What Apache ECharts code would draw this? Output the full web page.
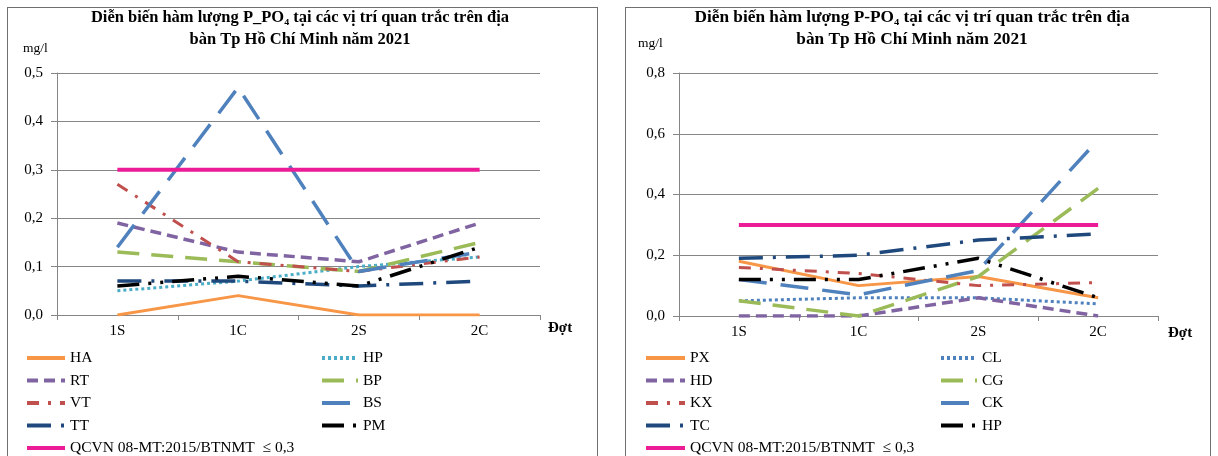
<!DOCTYPE html>
<html><head><meta charset="utf-8">
<script src="https://cdn.jsdelivr.net/npm/echarts@6/dist/echarts.min.js"></script>
<style>
body{margin:0;background:#fff;width:1218px;height:456px;overflow:hidden;position:relative}
.panel{position:absolute;top:7px;height:560px;border:1px solid #707070;box-sizing:border-box;background:#fff}
</style></head><body>
<div id="c1" class="panel" style="left:7px;width:591px"></div>
<div id="c2" class="panel" style="left:625px;width:586px"></div>
<script>
// ---------- data ----------
const categories = ['1S', '1C', '2S', '2C'];
const yTicksLeft = ['0,0', '0,1', '0,2', '0,3', '0,4', '0,5'];
const yTicksRight = ['0,0', '0,2', '0,4', '0,6', '0,8'];

// Left chart (P_PO4)
const HA = [0, 0.04, 0, 0];
const HP_L = [0.05, 0.07, 0.10, 0.12];
const RT = [0.19, 0.13, 0.11, 0.19];
const BP = [0.13, 0.11, 0.09, 0.15];
const VT = [0.27, 0.11, 0.09, 0.12];
const BS = [0.14, 0.47, 0.09, 0.13];
const TT = [0.07, 0.07, 0.06, 0.07];
const PM = [0.06, 0.08, 0.06, 0.14];
const QCVN_L = [0.3, 0.3, 0.3, 0.3];

// Right chart (P-PO4)
const PX = [0.18, 0.10, 0.13, 0.06];
const CL = [0.05, 0.06, 0.06, 0.04];
const HD = [0, 0, 0.06, 0];
const CG = [0.05, 0, 0.13, 0.42];
const KX = [0.16, 0.14, 0.10, 0.11];
const CK = [0.12, 0.07, 0.15, 0.58];
const TC = [0.19, 0.20, 0.25, 0.27];
const HP_R = [0.12, 0.12, 0.19, 0.06];
const QCVN_R = [0.3, 0.3, 0.3, 0.3];

const qcvnName = 'QCVN 08-MT:2015/BTNMT  ≤ 0,3';

// ---------- styles ----------
const FONT = '"Liberation Serif", "Times New Roman", serif';
const styles = {
  solidOrange: { color: '#f79646', width: 3, type: 'solid' },
  dotCyan: { color: '#4bacc6', width: 3, type: [3, 3] },
  dotBlue: { color: '#4f81bd', width: 3, type: [3, 3] },
  dashPurple: { color: '#8064a2', width: 3.5, type: [11, 6] },
  longDashGreen: { color: '#9bbb59', width: 3.5, type: [22, 12] },
  dashDotRed: { color: '#c0504d', width: 3, type: [12, 9, 3, 9] },
  longDashBlue: { color: '#4f81bd', width: 3.5, type: [28, 14] },
  longDashDotNavy: { color: '#1f497d', width: 3.5, type: [24, 10, 3, 10] },
  longDashDotDotBlack: { color: '#000000', width: 3.5, type: [22, 9, 3, 9, 3, 9] },
  magenta: { color: '#ec1c96', width: 4, type: 'solid' }
};

function mkSeries(name, data, st) {
  return { name, type: 'line', data, symbol: 'none', smooth: false,
    lineStyle: Object.assign({}, st), itemStyle: { color: st.color }, z: 2 };
}

function build(el, cfg) {
  const chart = echarts.init(el, null, { renderer: 'canvas' });
  const legendCommon = {
    orient: 'vertical', itemHeight: 14, itemGap: 6.5, selectedMode: false, padding: 0,
    itemStyle: { opacity: 0 },
    lineStyle: { width: 4 },
    textStyle: { fontFamily: FONT, fontSize: 15.5, color: '#000' }
  };
  chart.setOption({
    animation: false,
    textStyle: { fontFamily: FONT },
    grid: { left: cfg.gridLeft, top: 65, width: cfg.gridWidth, height: cfg.gridHeight },
    xAxis: {
      type: 'category', data: categories, boundaryGap: true,
      axisLine: { lineStyle: { color: '#868686', width: 1 } },
      axisTick: { show: true, length: 5, lineStyle: { color: '#868686' } },
      axisLabel: { fontFamily: FONT, fontSize: 15, color: '#000', margin: 9 }
    },
    yAxis: {
      type: 'value', min: 0, max: cfg.yMax, interval: cfg.yInterval,
      axisLine: { show: true, lineStyle: { color: '#868686', width: 1 } },
      axisTick: { show: true, length: 6, lineStyle: { color: '#868686' } },
      splitLine: { lineStyle: { color: '#868686', width: 1 } },
      axisLabel: { fontFamily: FONT, fontSize: 15, color: '#000', margin: cfg.labelMargin,
        formatter: (v) => cfg.yTicks[Math.round(v / cfg.yInterval)] }
    },
    legend: [
      Object.assign({}, legendCommon, { left: cfg.leg1x, top: 342, itemWidth: cfg.leg1w, data: cfg.col1 }),
      Object.assign({}, legendCommon, { left: cfg.leg2x, top: 342, itemWidth: cfg.leg2w, data: cfg.col2 })
    ],
    graphic: [
      { type: 'text', x: cfg.titleX, y: 10, style: {
        text: cfg.title1, font: 'bold ' + cfg.titleSize + 'px ' + FONT, fill: '#000', align: 'center', verticalAlign: 'middle' } },
      { type: 'text', x: cfg.titleX, y: 32, style: {
        text: cfg.title2, font: 'bold ' + cfg.titleSize + 'px ' + FONT, fill: '#000', align: 'center', verticalAlign: 'middle' } },
      { type: 'text', x: cfg.mgX, y: cfg.mgY, style: { text: 'mg/l', font: '13.5px ' + FONT, fill: '#000', verticalAlign: 'middle' } },
      { type: 'text', x: cfg.dotX, y: cfg.dotY, style: { text: 'Đợt', font: 'bold 15px ' + FONT, fill: '#000', verticalAlign: 'middle' } }
    ],
    series: cfg.series
  });
  return chart;
}

build(document.getElementById('c1'), {
  gridLeft: 49, gridWidth: 483, gridHeight: 242, yMax: 0.5, yInterval: 0.1, yTicks: yTicksLeft,
  labelMargin: 14, titleSize: 16.5,
  titleX: 292, title1: 'Diễn biến hàm lượng P_PO₄ tại các vị trí quan trắc trên địa',
  title2: 'bàn Tp Hồ Chí Minh năm 2021',
  mgX: 15, mgY: 40, dotX: 540, dotY: 320,
  leg1x: 17, leg1w: 38, leg2x: 312, leg2w: 36,
  col1: ['HA', 'RT', 'VT', 'TT', qcvnName],
  col2: ['HP', 'BP', 'BS', 'PM'],
  series: [
    mkSeries('HA', HA, styles.solidOrange),
    mkSeries('HP', HP_L, styles.dotCyan),
    mkSeries('RT', RT, styles.dashPurple),
    mkSeries('BP', BP, styles.longDashGreen),
    mkSeries('VT', VT, styles.dashDotRed),
    mkSeries('BS', BS, styles.longDashBlue),
    mkSeries('TT', TT, styles.longDashDotNavy),
    mkSeries('PM', PM, styles.longDashDotDotBlack),
    mkSeries(qcvnName, QCVN_L, styles.magenta)
  ]
});

build(document.getElementById('c2'), {
  gridLeft: 53, gridWidth: 479, gridHeight: 243, yMax: 0.8, yInterval: 0.2, yTicks: yTicksRight,
  labelMargin: 14, titleSize: 17.3,
  titleX: 286, title1: 'Diễn biến hàm lượng P-PO₄ tại các vị trí quan trắc trên địa',
  title2: 'bàn Tp Hồ Chí Minh năm 2021',
  mgX: 12, mgY: 35, dotX: 542, dotY: 325,
  leg1x: 18, leg1w: 39, leg2x: 313, leg2w: 36,
  col1: ['PX', 'HD', 'KX', 'TC', qcvnName],
  col2: ['CL', 'CG', 'CK', 'HP'],
  series: [
    mkSeries('PX', PX, styles.solidOrange),
    mkSeries('CL', CL, styles.dotBlue),
    mkSeries('HD', HD, styles.dashPurple),
    mkSeries('CG', CG, styles.longDashGreen),
    mkSeries('KX', KX, styles.dashDotRed),
    mkSeries('CK', CK, styles.longDashBlue),
    mkSeries('TC', TC, styles.longDashDotNavy),
    mkSeries('HP', HP_R, styles.longDashDotDotBlack),
    mkSeries(qcvnName, QCVN_R, styles.magenta)
  ]
});
</script>
</body></html>
